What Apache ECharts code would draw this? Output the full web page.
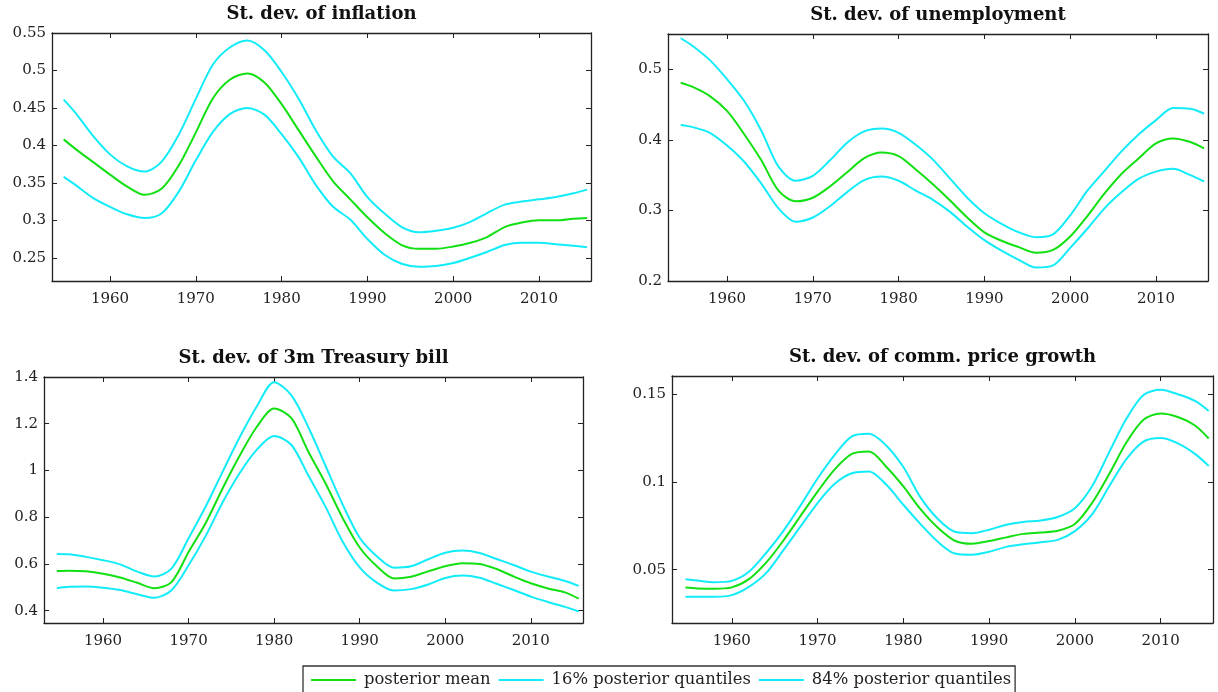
<!DOCTYPE html>
<html>
<head>
<meta charset="utf-8">
<script src="https://cdn.jsdelivr.net/npm/echarts@6/dist/echarts.min.js"></script>
<style>
  html, body { margin: 0; padding: 0; background: #fff; }
  #chart { width: 1218px; height: 692px; }
</style>
</head>
<body>
<div id="chart"></div>
<script>
// sample years shared by all four panels
const years = [1954.6, 1956, 1958, 1960, 1962, 1964, 1966, 1968, 1970, 1972, 1974, 1976, 1978, 1980, 1982, 1984,
  1986, 1988, 1990, 1992, 1994, 1996, 1998, 2000, 2002, 2004, 2006, 2008, 2010, 2012, 2014, 2015.6];
const yearTicks = [1960, 1970, 1980, 1990, 2000, 2010];

// St. dev. of inflation
const inflMean = [0.408, 0.395, 0.378, 0.361, 0.345, 0.334, 0.342, 0.373, 0.417, 0.463, 0.488, 0.496, 0.484, 0.455, 0.420, 0.385,
  0.352, 0.328, 0.304, 0.283, 0.267, 0.262, 0.262, 0.265, 0.270, 0.278, 0.291, 0.297, 0.300, 0.300, 0.302, 0.303];
const inflLo = [0.358, 0.347, 0.330, 0.318, 0.308, 0.303, 0.309, 0.338, 0.380, 0.418, 0.442, 0.450, 0.441, 0.415, 0.384, 0.347,
  0.318, 0.301, 0.275, 0.254, 0.242, 0.238, 0.239, 0.243, 0.250, 0.258, 0.267, 0.270, 0.270, 0.268, 0.266, 0.264];
const inflHi = [0.461, 0.443, 0.413, 0.388, 0.372, 0.365, 0.378, 0.414, 0.462, 0.508, 0.531, 0.540, 0.527, 0.498, 0.462, 0.420,
  0.385, 0.363, 0.331, 0.309, 0.291, 0.284, 0.286, 0.290, 0.298, 0.310, 0.321, 0.325, 0.328, 0.331, 0.336, 0.341];
const inflTicks = [0.25, 0.3, 0.35, 0.4, 0.45, 0.5, 0.55];

// St. dev. of unemployment
const unempMean = [0.481, 0.475, 0.462, 0.441, 0.408, 0.371, 0.328, 0.313, 0.318, 0.334, 0.354, 0.374, 0.382, 0.377, 0.358, 0.337,
  0.314, 0.290, 0.269, 0.257, 0.248, 0.240, 0.244, 0.263, 0.292, 0.324, 0.352, 0.374, 0.395, 0.402, 0.397, 0.388];
const unempLo = [0.421, 0.418, 0.410, 0.392, 0.369, 0.338, 0.303, 0.284, 0.290, 0.306, 0.326, 0.343, 0.348, 0.342, 0.328, 0.315,
  0.298, 0.277, 0.258, 0.243, 0.230, 0.219, 0.222, 0.247, 0.274, 0.303, 0.326, 0.345, 0.355, 0.359, 0.350, 0.341];
const unempHi = [0.544, 0.533, 0.513, 0.486, 0.455, 0.413, 0.362, 0.342, 0.349, 0.371, 0.396, 0.412, 0.416, 0.410, 0.393, 0.372,
  0.345, 0.318, 0.296, 0.281, 0.269, 0.262, 0.266, 0.293, 0.328, 0.356, 0.384, 0.408, 0.428, 0.445, 0.444, 0.437];
const unempTicks = [0.2, 0.3, 0.4, 0.5];

// St. dev. of 3m Treasury bill
const tbillMean = [0.570, 0.571, 0.568, 0.558, 0.542, 0.519, 0.496, 0.522, 0.651, 0.775, 0.925, 1.065, 1.188, 1.265, 1.225, 1.080,
  0.945, 0.797, 0.670, 0.590, 0.538, 0.545, 0.568, 0.590, 0.603, 0.600, 0.578, 0.546, 0.517, 0.495, 0.478, 0.451];
const tbillLo = [0.496, 0.502, 0.503, 0.498, 0.488, 0.470, 0.455, 0.487, 0.594, 0.720, 0.865, 0.990, 1.090, 1.147, 1.110, 0.978,
  0.845, 0.696, 0.585, 0.520, 0.486, 0.492, 0.512, 0.540, 0.550, 0.541, 0.515, 0.488, 0.460, 0.437, 0.416, 0.396];
const tbillHi = [0.642, 0.641, 0.630, 0.616, 0.598, 0.567, 0.546, 0.580, 0.710, 0.846, 0.996, 1.144, 1.276, 1.378, 1.322, 1.185,
  1.020, 0.855, 0.712, 0.633, 0.584, 0.590, 0.620, 0.648, 0.657, 0.647, 0.621, 0.595, 0.567, 0.546, 0.527, 0.506];
const tbillTicks = [0.4, 0.6, 0.8, 1, 1.2, 1.4];

// St. dev. of comm. price growth
const commMean = [0.0398, 0.0393, 0.0391, 0.0399, 0.0446, 0.0540, 0.0665, 0.0805, 0.0945, 0.1072, 0.1160, 0.1174, 0.1087, 0.0975, 0.0845, 0.0740,
  0.0665, 0.0648, 0.0663, 0.0684, 0.0704, 0.0712, 0.0722, 0.0760, 0.0880, 0.1045, 0.1225, 0.1355, 0.1390, 0.1370, 0.1322, 0.1248];
const commLo = [0.0346, 0.0346, 0.0346, 0.0355, 0.0402, 0.0480, 0.0610, 0.0745, 0.0880, 0.0990, 0.1050, 0.1060, 0.0985, 0.0870, 0.0760, 0.0660,
  0.0592, 0.0585, 0.0602, 0.0630, 0.0645, 0.0656, 0.0670, 0.0720, 0.0815, 0.0975, 0.1130, 0.1230, 0.1250, 0.1220, 0.1160, 0.1091];
const commHi = [0.0446, 0.0438, 0.0428, 0.0436, 0.0488, 0.0595, 0.0720, 0.0865, 0.1020, 0.1155, 0.1260, 0.1275, 0.1208, 0.1085, 0.0912, 0.0790,
  0.0716, 0.0708, 0.0728, 0.0756, 0.0772, 0.0780, 0.0800, 0.0850, 0.0975, 0.1170, 0.1360, 0.1496, 0.1525, 0.1500, 0.1462, 0.1405];
const commTicks = [0.05, 0.1, 0.15];

const names = ['posterior mean', '16% posterior quantiles', '84% posterior quantiles'];
const GREEN = '#12e012';
const CYAN = '#12ecf8';
const FONT = 'DejaVu Serif';
const INK = '#222';

const panels = [
  { title: 'St. dev. of inflation', grid: [52, 33, 539, 248], x: [1953.24, 2016.06], y: [0.219, 0.55], ticks: inflTicks,
    mean: inflMean, lo: inflLo, hi: inflHi },
  { title: 'St. dev. of unemployment', grid: [668, 34, 540, 247], x: [1953.12, 2016.06], y: [0.2, 0.55], ticks: unempTicks,
    mean: unempMean, lo: unempLo, hi: unempHi },
  { title: 'St. dev. of 3m Treasury bill', grid: [44, 377, 539, 246], x: [1953.1, 2016.1], y: [0.347, 1.4], ticks: tbillTicks,
    mean: tbillMean, lo: tbillLo, hi: tbillHi },
  { title: 'St. dev. of comm. price growth', grid: [672, 376, 541, 247], x: [1953.03, 2016.1], y: [0.0196, 0.1604], ticks: commTicks,
    mean: commMean, lo: commLo, hi: commHi }
];

const grids = [], xAxes = [], yAxes = [], series = [], texts = [];
const axisLine = { onZero: false, lineStyle: { color: INK, width: 1.3 } };
const label = { fontFamily: FONT, fontSize: 15, color: INK };

panels.forEach((p, i) => {
  const [l, t, w, h] = p.grid;
  grids.push({ left: l, top: t, width: w, height: h, outerBoundsMode: 'none' });
  ['bottom', 'top'].forEach(pos => {
    xAxes.push({
      gridIndex: i, type: 'value', position: pos, min: p.x[0], max: p.x[1],
      axisLine: axisLine,
      axisTick: { inside: true, length: 5, customValues: yearTicks, lineStyle: { color: INK } },
      axisLabel: Object.assign({ show: pos === 'bottom', margin: 11, customValues: yearTicks,
        formatter: v => String(Math.round(v)) }, label),
      splitLine: { show: false }
    });
  });
  ['left', 'right'].forEach(pos => {
    yAxes.push({
      gridIndex: i, type: 'value', position: pos, min: p.y[0], max: p.y[1],
      axisLine: axisLine,
      axisTick: { inside: true, length: 5, customValues: p.ticks, lineStyle: { color: INK } },
      axisLabel: Object.assign({ show: pos === 'left', margin: 6, customValues: p.ticks,
        formatter: v => String(+v.toFixed(3)) }, label),
      splitLine: { show: false }
    });
  });
  const lines = [[names[1], p.lo, CYAN], [names[2], p.hi, CYAN], [names[0], p.mean, GREEN]];
  lines.forEach(([name, vals, color]) => {
    series.push({
      name: name, type: 'line', xAxisIndex: 2 * i, yAxisIndex: 2 * i,
      data: years.map((yr, k) => [yr, vals[k]]),
      symbol: 'none', smooth: 0.3, silent: true,
      lineStyle: { color: color, width: 2 }, itemStyle: { color: color }
    });
  });
  texts.push({
    type: 'text', x: l + w / 2, y: t - 19,
    style: { text: p.title, textAlign: 'center', textVerticalAlign: 'middle',
      font: 'bold 18px "DejaVu Serif"', fill: '#111' }
  });
});

const chart = echarts.init(document.getElementById('chart'), null, { renderer: 'canvas' });
chart.setOption({
  animation: false,
  backgroundColor: '#fff',
  grid: grids,
  xAxis: xAxes,
  yAxis: yAxes,
  series: series,
  graphic: texts,
  legend: {
    data: names, left: 303, top: 666, orient: 'horizontal',
    icon: 'rect', padding: [5, 4, 20, 8], itemGap: 8, itemWidth: 45, itemHeight: 2,
    borderColor: '#333', borderWidth: 1.3, borderRadius: 0,
    textStyle: { fontFamily: FONT, fontSize: 16.4, color: INK, lineHeight: 18, padding: [0, 0, 0, 3] }
  }
});
</script>
</body>
</html>
